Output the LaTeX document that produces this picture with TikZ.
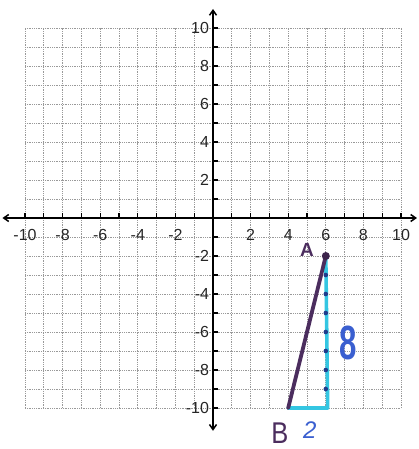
\documentclass[tikz,border=0pt]{standalone}
\usepackage{fontspec}
\setmainfont{Liberation Sans}
\usetikzlibrary{arrows.meta}
\definecolor{penpurple}{HTML}{4B2D5E}
\definecolor{penblue}{HTML}{3A5FD0}
\definecolor{pencyan}{HTML}{34C6E2}
\definecolor{dotblue}{HTML}{1F3C8C}
\tikzset{
  gridline/.style={gray!80, densely dotted, line width=0.8pt},
  axisline/.style={black, line width=1.5pt, -{Straight Barb[length=5pt,width=7pt]}},
  tickmark/.style={black, line width=1.1pt},
  ticklabel/.style={font=\fontsize{16}{16}\selectfont, inner sep=0pt, text=black!85},
  segAB/.style={penpurple, line width=3.8pt, line cap=round},
  legline/.style={pencyan, line width=3.6pt, line cap=round, line join=round},
  hand/.style={inner sep=0pt}
}
\begin{document}
\begin{tikzpicture}[x=1pt,y=-1pt]
\useasboundingbox[fill=white] (0,0) rectangle (419,449);
\begin{scope}[shift={(213,218)}, x=18.8pt, y=19pt]
  % grid
  \foreach \i in {-10,...,10} {
    \draw[gridline] (\i,-10) -- (\i,10);
    \draw[gridline] (-10,\i) -- (10,\i);
  }
  % axes
  \coordinate (xl) at (-11.2,0);
  \coordinate (xr) at (10.85,0);
  \coordinate (yt) at (0,11.0);
  \coordinate (yb) at (0,-11.2);
  \draw[axisline] (0,0) -- (xl);
  \draw[axisline] (0,0) -- (xr);
  \draw[axisline] (0,0) -- (yt);
  \draw[axisline] (0,0) -- (yb);
  % ticks
  \foreach \i in {-10,...,-1,1,2,...,10} {
    \draw[tickmark] (\i,0) -- ++(0,0.28);
    \draw[tickmark] (0,\i) -- ++(0.28,0);
  }
  % labels
  \foreach \i in {-10,-8,-6,-4,-2,2,4,6,8,10} {
    \node[ticklabel] (xlab\i) at (\i,-0.87) {\i};
    \node[ticklabel, anchor=east] (ylab\i) at (-0.2,\i) {\i};
  }
  % triangle
  \coordinate (A) at (6,-2);
  \coordinate (B) at (4,-10);
  \coordinate (C) at (6.1,-10);
  \draw[legline] (A) -- (C) -- (B);
  \foreach \j in {-3,...,-9} {
    \fill[dotblue] (6,\j) circle (2.3pt);
  }
  \draw[segAB] (B) -- (A);
  \fill[penpurple!80!black] (A) circle (4pt);
  \node[hand, text=penpurple, font=\fontsize{19}{19}\selectfont\bfseries] (labA) at (5.0,-1.68) {A};
  \node[hand, text=penpurple, font=\fontsize{30}{30}\selectfont, xscale=0.85] (labB) at (3.56,-11.3) {B};
  \node[hand, text=penblue, font=\fontsize{24}{24}\selectfont\itshape] (lab2) at (5.15,-11.16) {2};
  \node[hand, text=penblue, font=\fontsize{48}{48}\selectfont\bfseries, xscale=0.65] (lab8) at (7.18,-6.58) {8};
\end{scope}
\end{tikzpicture}
\end{document}
